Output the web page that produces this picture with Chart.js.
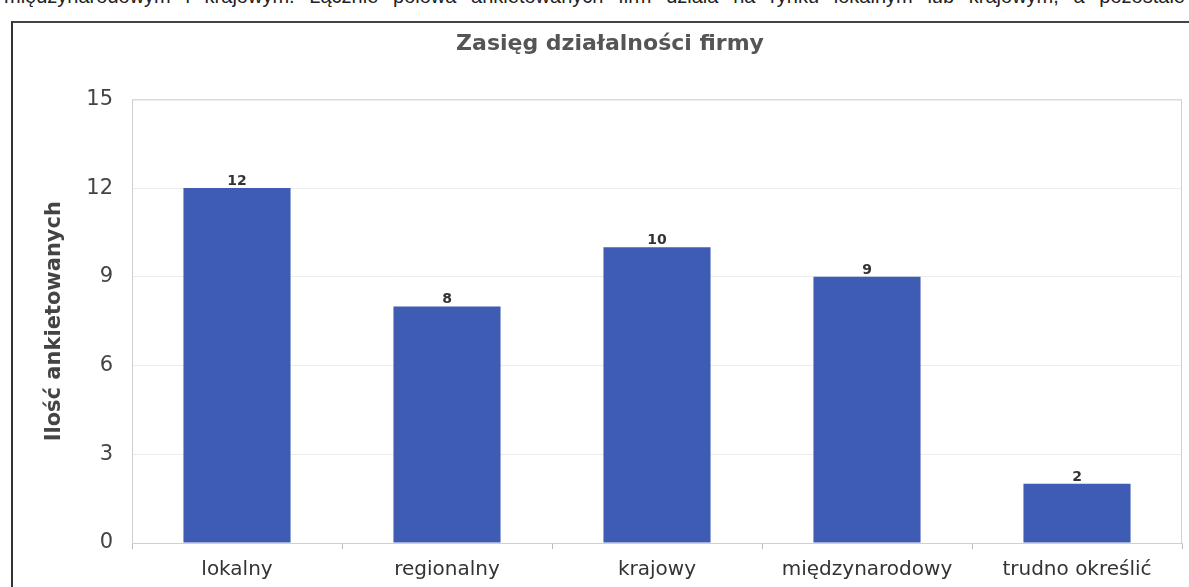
<!DOCTYPE html>
<html>
<head>
<meta charset="utf-8">
<script src="https://cdn.jsdelivr.net/npm/chart.js@4.4.1/dist/chart.umd.min.js"></script>
<style>
    body { margin: 0; background: #fff; overflow: hidden; }
    #topText {
        position: absolute; left: 4px; right: 4px; top: -15px;
        font: 20px "Liberation Sans", Arial, sans-serif; color: #222;
        text-align: justify; text-align-last: justify; white-space: nowrap;
    }
    #frame {
        position: absolute; left: 11px; top: 21px; width: 1300px; height: 700px;
        border-left: 2px solid #333; border-top: 2px solid #444;
    }
    #wrap { position: absolute; left: 0; top: 0; width: 1189px; height: 587px; }
</style>
</head>
<body>
<div id="topText">międzynarodowym i krajowym. Łącznie połowa ankietowanych firm działa na rynku lokalnym lub krajowym, a pozostałe</div>
<div id="frame"></div>
<div id="wrap"><canvas id="myChart"></canvas></div>
<script>
const categories = ['lokalny', 'regionalny', 'krajowy', 'międzynarodowy', 'trudno określić'];
const counts = [12, 8, 10, 9, 2];
const yTicks = [0, 3, 6, 9, 12, 15];

// obramowanie obszaru wykresu + etykiety wartości nad słupkami
const extras = {
    id: 'extras',
    beforeDatasetsDraw(chart) {
        const { ctx, chartArea: a } = chart;
        ctx.save();
        ctx.strokeStyle = '#d0d0d0';
        ctx.lineWidth = 1;
        ctx.strokeRect(a.left + 0.5, a.top + 0.5, a.right - a.left - 1, a.bottom - a.top);
        ctx.restore();
    },
    afterDatasetsDraw(chart) {
        const { ctx } = chart;
        const meta = chart.getDatasetMeta(0);
        ctx.save();
        ctx.font = 'bold 14px "DejaVu Sans", Verdana, sans-serif';
        ctx.fillStyle = '#333';
        ctx.textAlign = 'center';
        ctx.textBaseline = 'alphabetic';
        meta.data.forEach((bar, i) => {
            ctx.fillText(counts[i], bar.x, bar.y - 3);
        });
        ctx.restore();
    }
};

new Chart(document.getElementById('myChart'), {
    type: 'bar',
    data: {
        labels: categories,
        datasets: [{
            label: 'Ilość ankietowanych',
            data: counts,
            backgroundColor: '#3e5cb4',
            borderWidth: 0,
            categoryPercentage: 1,
            barPercentage: 0.51
        }]
    },
    options: {
        animation: false,
        responsive: true,
        maintainAspectRatio: false,
        layout: { padding: { left: 38, right: 7, top: 0, bottom: 0 } },
        plugins: {
            legend: { display: false },
            tooltip: { enabled: false },
            title: {
                display: true,
                text: 'Zasięg działalności firmy',
                color: '#555',
                font: { family: '"DejaVu Sans", Verdana, sans-serif', size: 22, weight: 'bold' },
                padding: { top: 31, bottom: 42 }
            }
        },
        scales: {
            x: {
                grid: { drawOnChartArea: false, tickLength: 6, color: '#bbb' },
                border: { color: '#c8c8c8' },
                ticks: {
                    color: '#333',
                    padding: 9,
                    font: { family: '"DejaVu Sans", Verdana, sans-serif', size: 20 }
                },
                afterFit: (s) => { s.height = 44; }
            },
            y: {
                min: 0,
                max: 15,
                afterBuildTicks: (s) => { s.ticks = yTicks.map(v => ({ value: v })); },
                grid: { color: '#ececec', drawTicks: false },
                border: { display: false },
                ticks: {
                    color: '#444',
                    padding: 19,
                    font: { family: '"DejaVu Sans", Verdana, sans-serif', size: 21 }
                },
                title: {
                    display: true,
                    text: 'Ilość ankietowanych',
                    color: '#444',
                    font: { family: '"DejaVu Sans", Verdana, sans-serif', size: 21, weight: 'bold' }
                },
                afterFit: (s) => { s.width = 94; }
            }
        }
    },
    plugins: [extras]
});
</script>
</body>
</html>
